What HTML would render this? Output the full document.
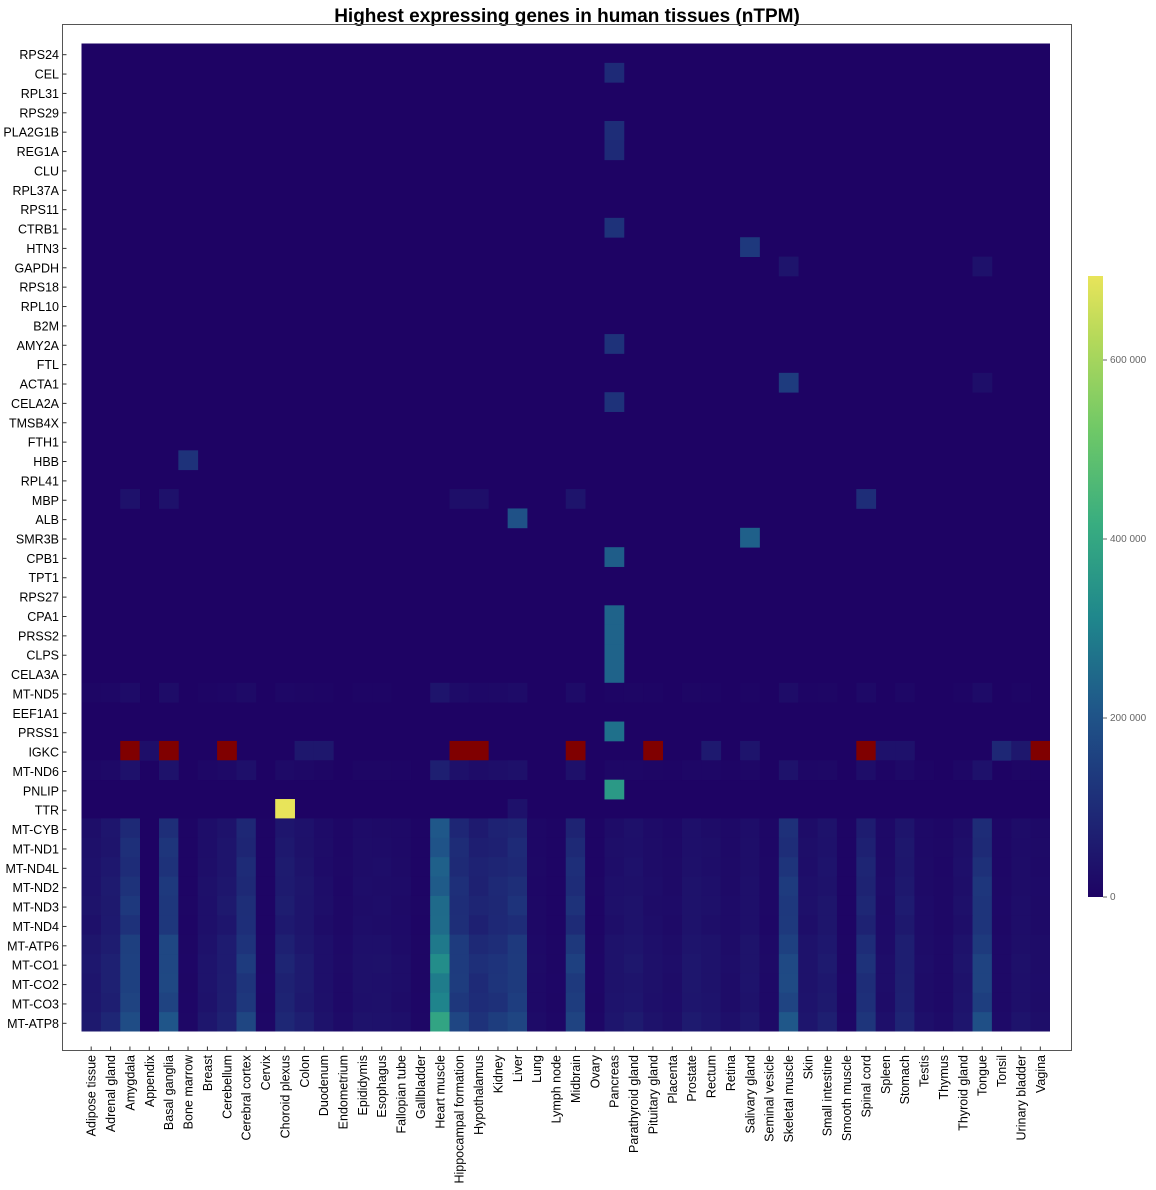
<!DOCTYPE html>
<html><head><meta charset="utf-8"><style>
html,body{margin:0;padding:0;background:#fff;}
svg{display:block;font-family:"Liberation Sans",Arial,sans-serif;}
</style></head><body>
<svg id="s" width="1156" height="1190" xmlns="http://www.w3.org/2000/svg">
<rect x="0" y="0" width="1156" height="1190" fill="#fff"/>
<text x="567" y="22" text-anchor="middle" font-size="19" font-weight="bold">Highest expressing genes in human tissues (nTPM)</text>
<rect x="62.5" y="24.5" width="1009" height="1026" fill="none" stroke="#555" stroke-width="1"/>
<g id="hm"></g>
<defs><linearGradient id="cb" x1="0" y1="1" x2="0" y2="0">
<stop offset="0" stop-color="#1e0364"/><stop offset="0.15" stop-color="#1e2d78"/><stop offset="0.3" stop-color="#1f5689"/><stop offset="0.45" stop-color="#1f878c"/><stop offset="0.6" stop-color="#38ad80"/><stop offset="0.75" stop-color="#6ec867"/><stop offset="0.9" stop-color="#b5d95a"/><stop offset="1" stop-color="#e8e45a"/>
</linearGradient></defs>
<rect x="1088" y="276" width="15" height="621" fill="url(#cb)"/>
<g font-size="10" fill="#666">
<text x="1110" y="900">0</text><text x="1110" y="721">200 000</text><text x="1110" y="542">400 000</text><text x="1110" y="363">600 000</text>
</g>
<g stroke="#666"><line x1="1103" y1="897" x2="1107" y2="897"/><line x1="1103" y1="718" x2="1107" y2="718"/><line x1="1103" y1="539" x2="1107" y2="539"/><line x1="1103" y1="360" x2="1107" y2="360"/></g>
</svg>
<script>
var rows=["RPS24","CEL","RPL31","RPS29","PLA2G1B","REG1A","CLU","RPL37A","RPS11","CTRB1","HTN3","GAPDH","RPS18","RPL10","B2M","AMY2A","FTL","ACTA1","CELA2A","TMSB4X","FTH1","HBB","RPL41","MBP","ALB","SMR3B","CPB1","TPT1","RPS27","CPA1","PRSS2","CLPS","CELA3A","MT-ND5","EEF1A1","PRSS1","IGKC","MT-ND6","PNLIP","TTR","MT-CYB","MT-ND1","MT-ND4L","MT-ND2","MT-ND3","MT-ND4","MT-ATP6","MT-CO1","MT-CO2","MT-CO3","MT-ATP8"];
var cols=["Adipose tissue","Adrenal gland","Amygdala","Appendix","Basal ganglia","Bone marrow","Breast","Cerebellum","Cerebral cortex","Cervix","Choroid plexus","Colon","Duodenum","Endometrium","Epididymis","Esophagus","Fallopian tube","Gallbladder","Heart muscle","Hippocampal formation","Hypothalamus","Kidney","Liver","Lung","Lymph node","Midbrain","Ovary","Pancreas","Parathyroid gland","Pituitary gland","Placenta","Prostate","Rectum","Retina","Salivary gland","Seminal vesicle","Skeletal muscle","Skin","Small intestine","Smooth muscle","Spinal cord","Spleen","Stomach","Testis","Thymus","Thyroid gland","Tongue","Tonsil","Urinary bladder","Vagina"];
var prof=[0.06,0.09,0.2,0.0,0.22,0.01,0.05,0.08,0.17,0.01,0.1,0.07,0.04,0.02,0.04,0.04,0.03,0.01,0.4,0.18,0.13,0.15,0.18,0.02,0.01,0.18,0.01,0.05,0.06,0.04,0.03,0.06,0.05,0.03,0.05,0.02,0.22,0.05,0.07,0.01,0.14,0.03,0.09,0.03,0.02,0.05,0.2,0.02,0.04,0.03];
var fac=[0.7,0.75,0.8,0.85,0.9,0.85,1.05,1.15,1.1,1.1,1.35];
var V=[];for(var r=0;r<51;r++){V.push([]);for(var c=0;c<50;c++)V[r].push(0);}
for(var i=0;i<11;i++)for(var c=0;c<50;c++){var h=((i*7+c*13)%5-2)*0.01;V[40+i][c]=Math.max(0,prof[c]*fac[i]+h*prof[c]*3);}
for(var c=0;c<50;c++){V[33][c]=prof[c]*0.15;V[37][c]=prof[c]*0.25;}
function s(r,c,v){V[r][c]=v;}
s(1,27,0.14);s(4,27,0.15);s(5,27,0.14);s(9,27,0.17);s(15,27,0.17);s(18,27,0.17);s(26,27,0.32);
for(var r=29;r<=32;r++)s(r,27,0.34);s(35,27,0.38);s(38,27,0.52);
s(10,34,0.19);s(25,34,0.33);s(17,36,0.2);s(21,5,0.17);s(24,22,0.28);s(23,40,0.15);
s(23,2,0.05);s(23,4,0.05);s(23,25,0.06);s(23,19,0.04);s(23,20,0.04);
s(39,10,1.0);s(39,22,0.05);s(11,36,0.06);s(11,46,0.05);s(17,46,0.04);
[11,12].forEach(function(c){s(36,c,0.07)});s(36,47,0.13);s(36,48,0.07);s(36,32,0.08);s(36,34,0.06);s(36,41,0.05);s(36,42,0.05);s(36,3,0.04);
var red=[2,4,7,19,20,25,29,40,49];
var st=[[0,[30,3,100]],[0.15,[30,45,120]],[0.3,[31,86,137]],[0.45,[31,135,140]],[0.6,[56,173,128]],[0.75,[110,200,103]],[0.9,[181,217,90]],[1,[232,228,90]]];
function col(v){v=Math.max(0,Math.min(1,v));for(var i=1;i<st.length;i++){if(v<=st[i][0]){var a=st[i-1],b=st[i],t=(v-a[0])/(b[0]-a[0]);return "rgb("+[0,1,2].map(function(k){return Math.round(a[1][k]+(b[1][k]-a[1][k])*t)}).join(",")+")";}}}
var x0=81.5,y0=43.5,cw=968.5/50,ch=988/51,o='<rect x="'+x0+'" y="'+y0+'" width="968.5" height="988" fill="'+col(0)+'"/>';
for(var r=0;r<51;r++)for(var c=0;c<50;c++){var v=V[r][c],f=null;if(r==36&&red.indexOf(c)>=0)f="#800000";else if(v>0.005)f=col(v);
var w=(c==49)?cw:cw+0.4,hh=(r==50)?ch:ch+0.4;
if(f)o+='<rect x="'+(x0+c*cw).toFixed(2)+'" y="'+(y0+r*ch).toFixed(2)+'" width="'+w.toFixed(2)+'" height="'+hh.toFixed(2)+'" fill="'+f+'"/>';}
for(var r=0;r<51;r++){var y=y0+(r+0.5)*ch+1.5;o+='<line x1="62.5" y1="'+y+'" x2="66.5" y2="'+y+'" stroke="#333"/><text x="59" y="'+(y+4.5)+'" text-anchor="end" font-size="12.5">'+rows[r]+'</text>';}
for(var c=0;c<50;c++){var x=x0+(c+0.5)*cw;o+='<line x1="'+x+'" y1="1046.5" x2="'+x+'" y2="1050.5" stroke="#333"/><text transform="translate('+(x+4.5)+',1055) rotate(-90)" text-anchor="end" font-size="12.5">'+cols[c]+'</text>';}
document.getElementById("hm").innerHTML=o;
</script>
</body></html>
